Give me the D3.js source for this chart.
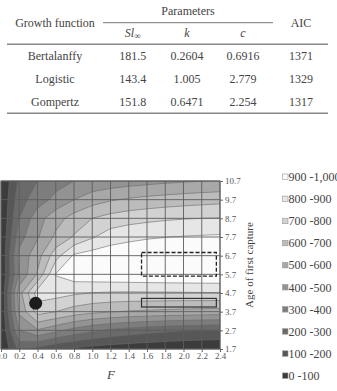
<!DOCTYPE html>
<html>
<head>
<meta charset="utf-8">
<script src="https://cdn.jsdelivr.net/npm/d3@7"></script>
<style>
  body { margin: 0; background: #fff; }
  svg { display: block; font-family: "Liberation Serif", "Times New Roman", serif; }
</style>
</head>
<body>
<svg id="chart" width="337" height="391"></svg>
<script>
// table values
const growthFunctions = ["Bertalanffy", "Logistic", "Gompertz"]
const slInf = [181.5, 143.4, 151.8]
const kValues = [0.2604, 1.005, 0.6471]
const cValues = [0.6916, 2.779, 2.254]
const aicValues = [1371, 1329, 1317]

// isopleth grid: columns = F, rows = age of first capture (top row first)
const fValues = [0, 0.2, 0.4, 0.6, 0.8, 1.0, 1.2, 1.4, 1.6, 1.8, 2.0, 2.2, 2.4]
const ageValues = [10.7, 9.7, 8.7, 7.7, 6.7, 5.7, 4.7, 3.7, 2.7, 1.7]
const yieldGrid = [
	[0, 220, 300, 360, 400, 425, 440, 455, 468, 480, 490, 498, 505],
	[0, 260, 350, 430, 500, 555, 590, 612, 628, 641, 652, 662, 670],
	[0, 300, 460, 560, 640, 700, 737, 760, 775, 787, 795, 800, 803],
	[0, 360, 490, 620, 710, 790, 852, 875, 890, 898, 905, 910, 915],
	[0, 430, 560, 760, 915, 945, 960, 968, 974, 978, 981, 983, 985],
	[0, 410, 610, 905, 955, 970, 978, 984, 988, 991, 993, 995, 996],
	[0, 560, 850, 840, 815, 797, 790, 788, 789, 790, 792, 794, 795],
	[0, 520, 740, 700, 655, 625, 605, 592, 583, 575, 568, 563, 558],
	[0, 400, 490, 430, 365, 318, 282, 256, 236, 219, 206, 197, 190],
	[0, 230, 170, 110, 80, 60, 45, 35, 27, 20, 15, 11, 8]
]
const thresholds = [100, 200, 300, 400, 500, 600, 700, 800, 900]
const bandLabels = ["0 -100", "100 -200", "200 -300", "300 -400", "400 -500",
	"500 -600", "600 -700", "700 -800", "800 -900", "900 -1,000"]
// marks drawn on top: [F, age]
const dotPoint = [0.38, 4.15]
const dashedBox = [1.54, 2.36, 5.6, 6.87]
const solidBox = [1.54, 2.36, 3.95, 4.41]

const bandColors = ["#3c3c3c", "#575757", "#6a6a6a", "#7d7d7d", "#939393",
	"#a8a8a8", "#bcbcbc", "#d2d2d2", "#e6e6e6", "#fbfbfb"]
const serif = "'Liberation Serif', 'Times New Roman', serif"

const svg = d3.select("#chart")
svg.append("rect").attr("width", 337).attr("height", 391).attr("fill", "#fff")

// ---------- table ----------
const tbl = svg.append("g").attr("fill", "#444").attr("font-size", 12)
	.attr("font-family", serif).attr("text-anchor", "middle")
const colX = [55, 132.7, 187, 243, 301]
const rowY = d3.scalePoint().domain(growthFunctions).range([59.5, 106])

tbl.append("text").attr("x", 188).attr("y", 15).text("Parameters")
tbl.append("line").attr("x1", 103).attr("x2", 273).attr("y1", 22.7).attr("y2", 22.7)
	.attr("stroke", "#777").attr("stroke-width", 1)
tbl.append("text").attr("x", colX[0]).attr("y", 27).text("Growth function")
tbl.append("text").attr("x", colX[4]).attr("y", 27).text("AIC")
let slHead = tbl.append("text").attr("x", colX[1]).attr("y", 37)
slHead.append("tspan").attr("font-style", "italic").text("Sl")
slHead.append("tspan").attr("font-size", 9).attr("dy", 2).text("\u221e")
tbl.append("text").attr("x", colX[2]).attr("y", 37).attr("font-style", "italic").text("k")
tbl.append("text").attr("x", colX[3]).attr("y", 37).attr("font-style", "italic").text("c")

;[44.3, 113.3].forEach(ry => {
	tbl.append("line").attr("x1", 7).attr("x2", 328).attr("y1", ry).attr("y2", ry)
		.attr("stroke", "#888").attr("stroke-width", 1.4)
})

growthFunctions.forEach((name, i) => {
	let cells = [name, slInf[i], kValues[i], cValues[i], aicValues[i]]
	cells.forEach((v, j) => {
		tbl.append("text").attr("x", colX[j]).attr("y", rowY(name)).text(String(v))
	})
})

// ---------- contour plot ----------
const x = d3.scaleLinear().domain([0, 2.4]).range([1, 220])
const y = d3.scaleLinear().domain([1.7, 10.7]).range([349, 181])

const nx = fValues.length, ny = ageValues.length
const gx = d3.scaleLinear().domain([0.5, nx - 0.5]).range([x(fValues[0]), x(fValues[nx - 1])])
const gy = d3.scaleLinear().domain([0.5, ny - 0.5]).range([y(ageValues[0]), y(ageValues[ny - 1])])
const contourPath = d3.geoPath(d3.geoTransform({
	point(px, py) { this.stream.point(gx(px), gy(py)) }
}))

svg.append("clipPath").attr("id", "plotclip").append("rect")
	.attr("x", x(0)).attr("y", y(10.7)).attr("width", x(2.4) - x(0)).attr("height", y(1.7) - y(10.7))

const plot = svg.append("g").attr("clip-path", "url(#plotclip)")
plot.append("rect").attr("x", x(0)).attr("y", y(10.7))
	.attr("width", x(2.4) - x(0)).attr("height", y(1.7) - y(10.7)).attr("fill", bandColors[0])

const bands = d3.contours().size([nx, ny]).thresholds(thresholds)(yieldGrid.flat())
plot.selectAll(".band").data(bands).enter().append("path").classed("band", true)
	.attr("d", contourPath)
	.attr("fill", (d, i) => bandColors[i + 1])
	.attr("stroke", "#6a6a6a").attr("stroke-width", 0.6)

// grid
const grid = svg.append("g").attr("stroke", "#5c5c5c").attr("stroke-width", 0.9)
grid.selectAll(".vg").data(fValues).enter().append("line")
	.attr("x1", d => x(d)).attr("x2", d => x(d)).attr("y1", y(10.7)).attr("y2", y(1.7))
grid.selectAll(".hg").data(ageValues).enter().append("line")
	.attr("x1", x(0)).attr("x2", x(2.4)).attr("y1", d => y(d)).attr("y2", d => y(d))
grid.append("rect").attr("x", x(0)).attr("y", y(10.7))
	.attr("width", x(2.4) - x(0)).attr("height", y(1.7) - y(10.7)).attr("fill", "none")

// overlays
svg.append("rect").attr("x", x(dashedBox[0])).attr("y", y(dashedBox[3]))
	.attr("width", x(dashedBox[1]) - x(dashedBox[0])).attr("height", y(dashedBox[2]) - y(dashedBox[3]))
	.attr("fill", "none").attr("stroke", "#222").attr("stroke-width", 1.3).attr("stroke-dasharray", "4,2")
svg.append("rect").attr("x", x(solidBox[0])).attr("y", y(solidBox[3]))
	.attr("width", x(solidBox[1]) - x(solidBox[0])).attr("height", y(solidBox[2]) - y(solidBox[3]))
	.attr("fill", "none").attr("stroke", "#333").attr("stroke-width", 1.2)
svg.append("circle").attr("cx", x(dotPoint[0])).attr("cy", y(dotPoint[1])).attr("r", 6.5).attr("fill", "#1c1c1c")

// axes
const fmt = d3.format(".1f")
let yAxis = svg.append("g").attr("transform", `translate(${x(2.4)},0)`)
	.call(d3.axisRight(y).tickValues(ageValues).tickFormat(fmt).tickSize(3).tickPadding(2))
let xAxis = svg.append("g").attr("transform", `translate(0,${y(1.7)})`)
	.call(d3.axisBottom(x).tickValues(fValues).tickFormat(fmt).tickSize(3).tickPadding(1))
;[yAxis, xAxis].forEach(ax => {
	ax.attr("font-family", serif)
	ax.select(".domain").remove()
	ax.selectAll("line").attr("stroke", "#666")
	ax.selectAll("text").attr("fill", "#555").attr("font-size", 9)
})

svg.append("text").attr("x", 111).attr("y", 379).attr("text-anchor", "middle").attr("font-family", serif)
	.attr("font-style", "italic").attr("font-size", 13).attr("fill", "#444").text("F")
svg.append("text").attr("transform", "translate(249,265) rotate(-90)").attr("font-family", serif)
	.attr("text-anchor", "middle").attr("dy", "0.35em")
	.attr("font-size", 11).attr("fill", "#444").text("Age of first capture")

// legend
const legendOrder = bandLabels.slice().reverse()
const ly = d3.scalePoint().domain(legendOrder).range([176.5, 375.4])
let leg = svg.selectAll(".leg").data(legendOrder).enter().append("g").classed("leg", true)
	.attr("transform", d => `translate(282.5,${ly(d)})`)
leg.append("rect").attr("x", 0).attr("y", -2.5).attr("width", 5.5).attr("height", 5.5)
	.attr("fill", d => bandColors[bandLabels.indexOf(d)]).attr("stroke", "#999").attr("stroke-width", 0.6)
leg.append("text").attr("x", 6).attr("dy", "0.38em").attr("font-size", 12).attr("font-family", serif)
	.attr("fill", "#444").text(d => d)
</script>
</body>
</html>
